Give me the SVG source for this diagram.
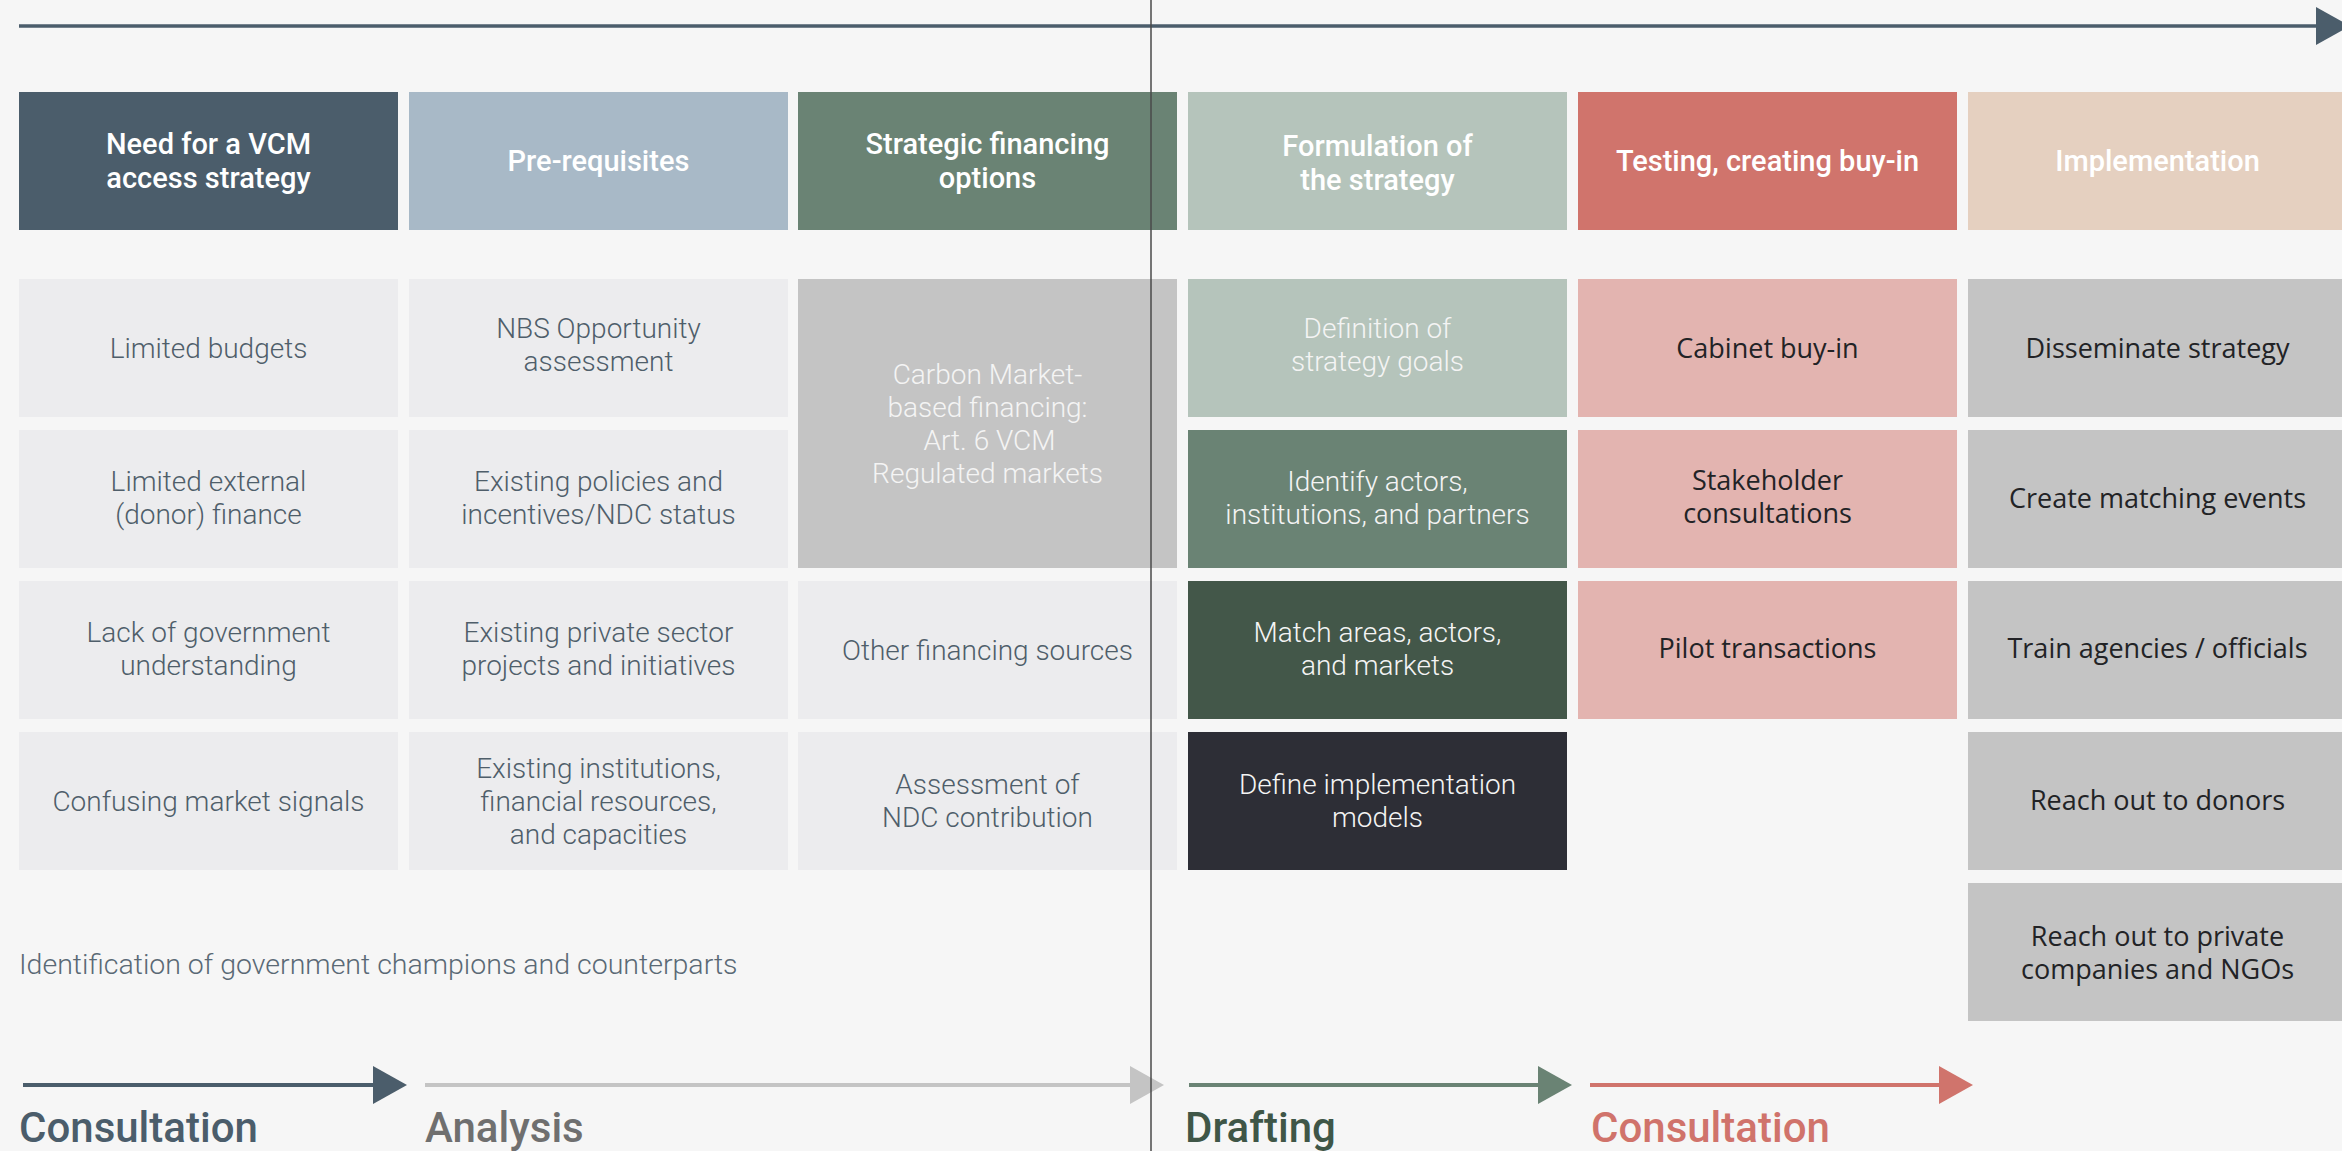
<svg xmlns="http://www.w3.org/2000/svg" width="2342" height="1151" viewBox="0 0 2342 1151">
  <defs>
    <style>
      .bg { fill: #f6f6f6; }
      .hdr-text { font-family: Roboto, "Liberation Sans", sans-serif; font-weight: 500; font-size: 29px; fill: #ffffff; text-anchor: middle; dominant-baseline: central; }
      .cell-text { font-family: Roboto, "Liberation Sans", sans-serif; font-weight: 300; font-size: 28px; fill: #4f5e6a; text-anchor: middle; dominant-baseline: central; }
      .cell-text.inv { fill: #f4f4f4; }
      .task-text { font-family: "Open Sans", "Noto Sans", sans-serif; font-weight: 400; font-size: 27px; fill: #222326; text-anchor: middle; dominant-baseline: central; }
      .note { font-family: Roboto, "Liberation Sans", sans-serif; font-weight: 300; font-size: 28.5px; fill: #5a6975; dominant-baseline: central; }
      .phase { font-family: Roboto, "Liberation Sans", sans-serif; font-weight: 500; font-size: 42px; }
      .flow { fill: none; stroke-width: 4; }
    </style>
    <marker id="head-slate" markerUnits="userSpaceOnUse" markerWidth="34" markerHeight="38" viewBox="0 0 34 38" refX="0" refY="19" orient="auto">
      <path d="M0,0 L34,19 L0,38 Z" fill="#4b5d6b"/>
    </marker>
    <marker id="head-grey" markerUnits="userSpaceOnUse" markerWidth="34" markerHeight="38" viewBox="0 0 34 38" refX="0" refY="19" orient="auto">
      <path d="M0,0 L34,19 L0,38 Z" fill="#c4c4c4"/>
    </marker>
    <marker id="head-green" markerUnits="userSpaceOnUse" markerWidth="34" markerHeight="38" viewBox="0 0 34 38" refX="0" refY="19" orient="auto">
      <path d="M0,0 L34,19 L0,38 Z" fill="#6a8374"/>
    </marker>
    <marker id="head-red" markerUnits="userSpaceOnUse" markerWidth="34" markerHeight="38" viewBox="0 0 34 38" refX="0" refY="19" orient="auto">
      <path d="M0,0 L34,19 L0,38 Z" fill="#d0746c"/>
    </marker>
  </defs>

  <rect class="bg" x="0" y="0" width="2342" height="1151"/>

  <!-- Column headers -->
  <g id="hdr-need">
    <rect x="19" y="92" width="379" height="138" fill="#4b5d6b"/>
    <text class="hdr-text" x="208.5" y="144">Need for a VCM</text>
    <text class="hdr-text" x="208.5" y="178">access strategy</text>
  </g>
  <g id="hdr-prereq">
    <rect x="409" y="92" width="379" height="138" fill="#a8b9c7"/>
    <text class="hdr-text" x="598.5" y="161">Pre-requisites</text>
  </g>
  <g id="hdr-financing">
    <rect x="798" y="92" width="379" height="138" fill="#6a8374"/>
    <text class="hdr-text" x="987.5" y="144">Strategic financing</text>
    <text class="hdr-text" x="987.5" y="178">options</text>
  </g>
  <g id="hdr-formulation">
    <rect x="1188" y="92" width="379" height="138" fill="#b5c4bb"/>
    <text class="hdr-text" x="1377.5" y="146">Formulation of</text>
    <text class="hdr-text" x="1377.5" y="180">the strategy</text>
  </g>
  <g id="hdr-testing">
    <rect x="1578" y="92" width="379" height="138" fill="#d0746c"/>
    <text class="hdr-text" x="1767.5" y="161">Testing, creating buy-in</text>
  </g>
  <g id="hdr-implementation">
    <rect x="1968" y="92" width="379" height="138" fill="#e5d0c0"/>
    <text class="hdr-text" x="2157.5" y="161">Implementation</text>
  </g>

  <!-- Need for a VCM access strategy -->
  <g id="limited-budgets">
    <rect x="19" y="279" width="379" height="138" fill="#ececee"/>
    <text class="cell-text" x="208.5" y="348">Limited budgets</text>
  </g>
  <g id="limited-external-finance">
    <rect x="19" y="430" width="379" height="138" fill="#ececee"/>
    <text class="cell-text" x="208.5" y="481.5">Limited external</text>
    <text class="cell-text" x="208.5" y="514.5">(donor) finance</text>
  </g>
  <g id="lack-of-understanding">
    <rect x="19" y="581" width="379" height="138" fill="#ececee"/>
    <text class="cell-text" x="208.5" y="632.5">Lack of government</text>
    <text class="cell-text" x="208.5" y="665.5">understanding</text>
  </g>
  <g id="confusing-signals">
    <rect x="19" y="732" width="379" height="138" fill="#ececee"/>
    <text class="cell-text" x="208.5" y="801">Confusing market signals</text>
  </g>

  <!-- Pre-requisites -->
  <g id="nbs-assessment">
    <rect x="409" y="279" width="379" height="138" fill="#ececee"/>
    <text class="cell-text" x="598.5" y="328.5">NBS Opportunity</text>
    <text class="cell-text" x="598.5" y="361.5">assessment</text>
  </g>
  <g id="existing-policies">
    <rect x="409" y="430" width="379" height="138" fill="#ececee"/>
    <text class="cell-text" x="598.5" y="481.5">Existing policies and</text>
    <text class="cell-text" x="598.5" y="514.5">incentives/NDC status</text>
  </g>
  <g id="existing-projects">
    <rect x="409" y="581" width="379" height="138" fill="#ececee"/>
    <text class="cell-text" x="598.5" y="632.5">Existing private sector</text>
    <text class="cell-text" x="598.5" y="665.5">projects and initiatives</text>
  </g>
  <g id="existing-institutions">
    <rect x="409" y="732" width="379" height="138" fill="#ececee"/>
    <text class="cell-text" x="598.5" y="768">Existing institutions,</text>
    <text class="cell-text" x="598.5" y="801">financial resources,</text>
    <text class="cell-text" x="598.5" y="834">and capacities</text>
  </g>

  <!-- Strategic financing options -->
  <g id="carbon-market-financing">
    <rect x="798" y="279" width="379" height="289" fill="#c4c4c4"/>
    <text class="cell-text inv" x="987.5" y="374">Carbon Market-</text>
    <text class="cell-text inv" x="987.5" y="407">based financing:</text>
    <text class="cell-text inv" x="989.5" y="440">Art. 6 VCM</text>
    <text class="cell-text inv" x="987.5" y="473">Regulated markets</text>
  </g>
  <g id="other-financing">
    <rect x="798" y="581" width="379" height="138" fill="#ececee"/>
    <text class="cell-text" x="987.5" y="650">Other financing sources</text>
  </g>
  <g id="ndc-assessment">
    <rect x="798" y="732" width="379" height="138" fill="#ececee"/>
    <text class="cell-text" x="987.5" y="784.5">Assessment of</text>
    <text class="cell-text" x="987.5" y="817.5">NDC contribution</text>
  </g>

  <!-- Formulation of the strategy -->
  <g id="strategy-goals">
    <rect x="1188" y="279" width="379" height="138" fill="#b5c4bb"/>
    <text class="cell-text inv" x="1377.5" y="328.5">Definition of</text>
    <text class="cell-text inv" x="1377.5" y="361.5">strategy goals</text>
  </g>
  <g id="identify-actors">
    <rect x="1188" y="430" width="379" height="138" fill="#6a8374"/>
    <text class="cell-text inv" x="1377.5" y="481.5">Identify actors,</text>
    <text class="cell-text inv" x="1377.5" y="514.5">institutions, and partners</text>
  </g>
  <g id="match-areas">
    <rect x="1188" y="581" width="379" height="138" fill="#435749"/>
    <text class="cell-text inv" x="1377.5" y="632.5">Match areas, actors,</text>
    <text class="cell-text inv" x="1377.5" y="665.5">and markets</text>
  </g>
  <g id="implementation-models">
    <rect x="1188" y="732" width="379" height="138" fill="#2d2e36"/>
    <text class="cell-text inv" x="1377.5" y="784.5">Define implementation</text>
    <text class="cell-text inv" x="1377.5" y="817.5">models</text>
  </g>

  <!-- Testing, creating buy-in -->
  <g id="cabinet-buy-in">
    <rect x="1578" y="279" width="379" height="138" fill="#e3b4b0"/>
    <text class="task-text" x="1767.5" y="347">Cabinet buy-in</text>
  </g>
  <g id="stakeholder-consultations">
    <rect x="1578" y="430" width="379" height="138" fill="#e3b4b0"/>
    <text class="task-text" x="1767.5" y="479.5">Stakeholder</text>
    <text class="task-text" x="1767.5" y="512.5">consultations</text>
  </g>
  <g id="pilot-transactions">
    <rect x="1578" y="581" width="379" height="138" fill="#e3b4b0"/>
    <text class="task-text" x="1767.5" y="647">Pilot transactions</text>
  </g>

  <!-- Implementation -->
  <g id="disseminate-strategy">
    <rect x="1968" y="279" width="379" height="138" fill="#c4c4c4"/>
    <text class="task-text" x="2157.5" y="347">Disseminate strategy</text>
  </g>
  <g id="matching-events">
    <rect x="1968" y="430" width="379" height="138" fill="#c4c4c4"/>
    <text class="task-text" x="2157.5" y="497">Create matching events</text>
  </g>
  <g id="train-agencies">
    <rect x="1968" y="581" width="379" height="138" fill="#c4c4c4"/>
    <text class="task-text" x="2157.5" y="647">Train agencies / officials</text>
  </g>
  <g id="reach-donors">
    <rect x="1968" y="732" width="379" height="138" fill="#c4c4c4"/>
    <text class="task-text" x="2157.5" y="799">Reach out to donors</text>
  </g>
  <g id="reach-private">
    <rect x="1968" y="883" width="379" height="138" fill="#c4c4c4"/>
    <text class="task-text" x="2157.5" y="935.5">Reach out to private</text>
    <text class="task-text" x="2157.5" y="968.5">companies and NGOs</text>
  </g>

  <g id="champions-note">
    <text class="note" x="19" y="964">Identification of government champions and counterparts</text>
  </g>

  <!-- Timeline and phase arrows -->
  <g id="connectors">
    <line x1="19" y1="26" x2="2316" y2="26" stroke="#4b5d6b" stroke-width="3.5" marker-end="url(#head-slate)"/>
    <line class="flow" x1="23" y1="1085" x2="373" y2="1085" stroke="#4b5d6b" marker-end="url(#head-slate)"/>
    <line class="flow" x1="425" y1="1085" x2="1130" y2="1085" stroke="#c4c4c4" marker-end="url(#head-grey)"/>
    <line class="flow" x1="1189" y1="1085" x2="1538" y2="1085" stroke="#6a8374" marker-end="url(#head-green)"/>
    <line class="flow" x1="1590" y1="1085" x2="1939" y2="1085" stroke="#d0746c" marker-end="url(#head-red)"/>
  </g>

  <g id="phase-labels">
    <text class="phase" x="19" y="1142" fill="#4b5d6b">Consultation</text>
    <text class="phase" x="425" y="1142" fill="#6f6f6f">Analysis</text>
    <text class="phase" x="1185" y="1142" fill="#3f5647">Drafting</text>
    <text class="phase" x="1591" y="1142" fill="#d0736b">Consultation</text>
  </g>

  <!-- Divider -->
  <g id="divider">
    <line x1="1151" y1="0" x2="1151" y2="1151" stroke="#4a4a4a" stroke-width="1.5"/>
  </g>
</svg>
